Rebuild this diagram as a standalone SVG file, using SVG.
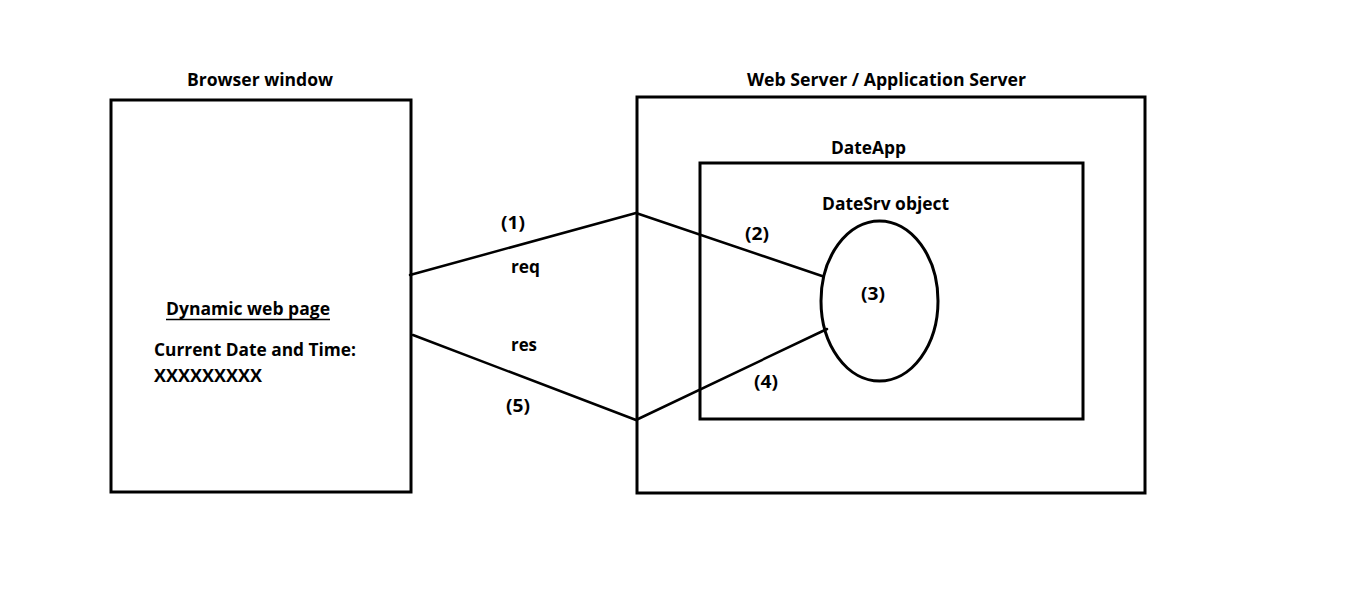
<svg xmlns="http://www.w3.org/2000/svg" width="1360" height="594" viewBox="0 0 1360 594">
<style>
.box{fill:none;stroke:#000;stroke-width:3}
.ln{fill:none;stroke:#000;stroke-width:2.5;stroke-linecap:round;stroke-linejoin:round}
text{font-family:"Open Sans","Liberation Sans",sans-serif;font-weight:bold;font-size:17px;fill:#000}
</style>
<rect width="1360" height="594" fill="#fff"/>
<g id="browser">
<rect class="box" x="111" y="100" width="300" height="392"/>
<text x="187" y="86" textLength="146" lengthAdjust="spacingAndGlyphs">Browser window</text>
<text x="166" y="315" textLength="164" lengthAdjust="spacingAndGlyphs">Dynamic web page</text>
<line x1="166" y1="319.5" x2="330" y2="319.5" stroke="#000" stroke-width="1.6"/>
<text x="154" y="356" textLength="202" lengthAdjust="spacingAndGlyphs">Current Date and Time:</text>
<text x="154" y="382" textLength="108" lengthAdjust="spacingAndGlyphs">XXXXXXXXX</text>
</g>
<g id="server">
<rect class="box" x="637" y="97" width="508" height="396"/>
<text x="747" y="86" textLength="279" lengthAdjust="spacingAndGlyphs">Web Server / Application Server</text>
</g>
<g id="dateapp">
<rect class="box" x="700" y="163" width="383" height="256"/>
<text x="831" y="154" textLength="75" lengthAdjust="spacingAndGlyphs">DateApp</text>
</g>
<g id="datesrv">
<ellipse class="box" cx="879.5" cy="301" rx="58.5" ry="80" stroke-width="2.5"/>
<text x="822" y="210" textLength="127" lengthAdjust="spacingAndGlyphs">DateSrv object</text>
<text x="861" y="300" textLength="24" lengthAdjust="spacingAndGlyphs">(3)</text>
</g>
<g id="connectors">
<polyline class="ln" points="410,275 636,213 822,276"/>
<polyline class="ln" points="413,335 636,420 827,329"/>
<text x="501" y="229" textLength="24" lengthAdjust="spacingAndGlyphs">(1)</text>
<text x="511" y="273" textLength="29" lengthAdjust="spacingAndGlyphs">req</text>
<text x="745" y="240" textLength="24" lengthAdjust="spacingAndGlyphs">(2)</text>
<text x="511" y="351" textLength="26" lengthAdjust="spacingAndGlyphs">res</text>
<text x="754" y="388" textLength="24" lengthAdjust="spacingAndGlyphs">(4)</text>
<text x="506" y="412" textLength="24" lengthAdjust="spacingAndGlyphs">(5)</text>
</g>
</svg>
